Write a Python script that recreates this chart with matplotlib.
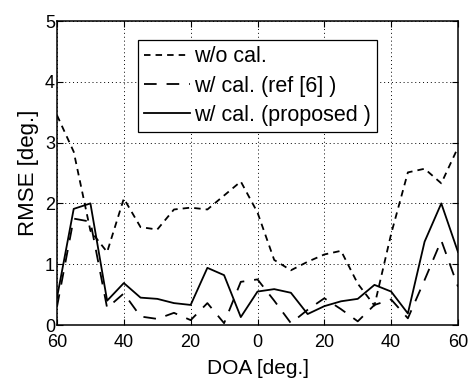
import matplotlib
matplotlib.use("Agg")
import matplotlib.pyplot as plt
import numpy as np

plt.rcParams['font.family'] = ['Liberation Sans', 'DejaVu Sans']

doa = [-60, -55, -50, -45, -40, -35, -30, -25, -20, -15, -10, -5, 0,
       5, 10, 15, 20, 25, 30, 35, 40, 45, 50, 55, 60]
rmse_wo_cal = [3.45, 2.85, 1.55, 1.2, 2.08, 1.61, 1.57, 1.9, 1.93, 1.9, 2.13, 2.36, 1.85,
               1.07, 0.9, 1.04, 1.16, 1.22, 0.68, 0.32, 1.5, 2.51, 2.57, 2.33, 2.92]
rmse_ref6 = [0.3, 1.75, 1.7, 0.28, 0.52, 0.14, 0.1, 0.2, 0.08, 0.36, 0.03, 0.71, 0.75,
             0.4, 0.03, 0.25, 0.44, 0.26, 0.06, 0.33, 0.42, 0.11, 0.74, 1.39, 0.63]
rmse_prop = [0.45, 1.91, 2.0, 0.4, 0.69, 0.45, 0.43, 0.36, 0.33, 0.94, 0.82, 0.13, 0.55,
             0.59, 0.53, 0.18, 0.31, 0.39, 0.43, 0.66, 0.55, 0.19, 1.37, 2.0, 1.2]
labels = ['w/o cal.', 'w/ cal. (ref [6] )', 'w/ cal. (proposed )']
xticks = [-60, -40, -20, 0, 20, 40, 60]
xticklabels = ['60', '40', '20', '0', '20', '40', '60']
yticks = [0, 1, 2, 3, 4, 5]

fig = plt.figure(figsize=(4.73, 3.78), dpi=100)
ax = fig.add_axes([57 / 473, 53 / 378, 401 / 473, 304 / 378])

lw = 1.3
ax.plot(doa, rmse_wo_cal, color='black', lw=lw, dashes=(3.6, 2.8), label=labels[0])
ax.plot(doa, rmse_ref6, color='black', lw=lw, dashes=(7.0, 5.5), label=labels[1])
ax.plot(doa, rmse_prop, color='black', lw=lw, linestyle='-', label=labels[2])

ax.set_xlim(-60, 60)
ax.set_ylim(0, 5)
ax.set_xticks(xticks)
ax.set_xticklabels(xticklabels)
ax.set_yticks(yticks)
ax.tick_params(direction='in', top=True, right=True, labelsize=13, length=4, width=0.8)
ax.tick_params(axis='x', pad=6.5)
ax.tick_params(axis='y', pad=1.5)
ax.grid(True, linestyle=(0, (1, 3)), color='black', lw=0.7)
for s in ax.spines.values():
    s.set_linewidth(1.1)

ax.set_xlabel('DOA [deg.]', fontsize=15, labelpad=5.5)
ax.set_ylabel('RMSE [deg.]', fontsize=16, labelpad=4)

leg = ax.legend(loc='upper left', bbox_to_anchor=(81 / 401, 285 / 304), fontsize=15.5,
                frameon=True, fancybox=False, edgecolor='black', framealpha=1,
                handlelength=2.1, handletextpad=0.2, borderpad=0.3, labelspacing=0.38,
                borderaxespad=0)
leg.get_frame().set_linewidth(0.9)

fig.savefig('out.png', dpi=100)
